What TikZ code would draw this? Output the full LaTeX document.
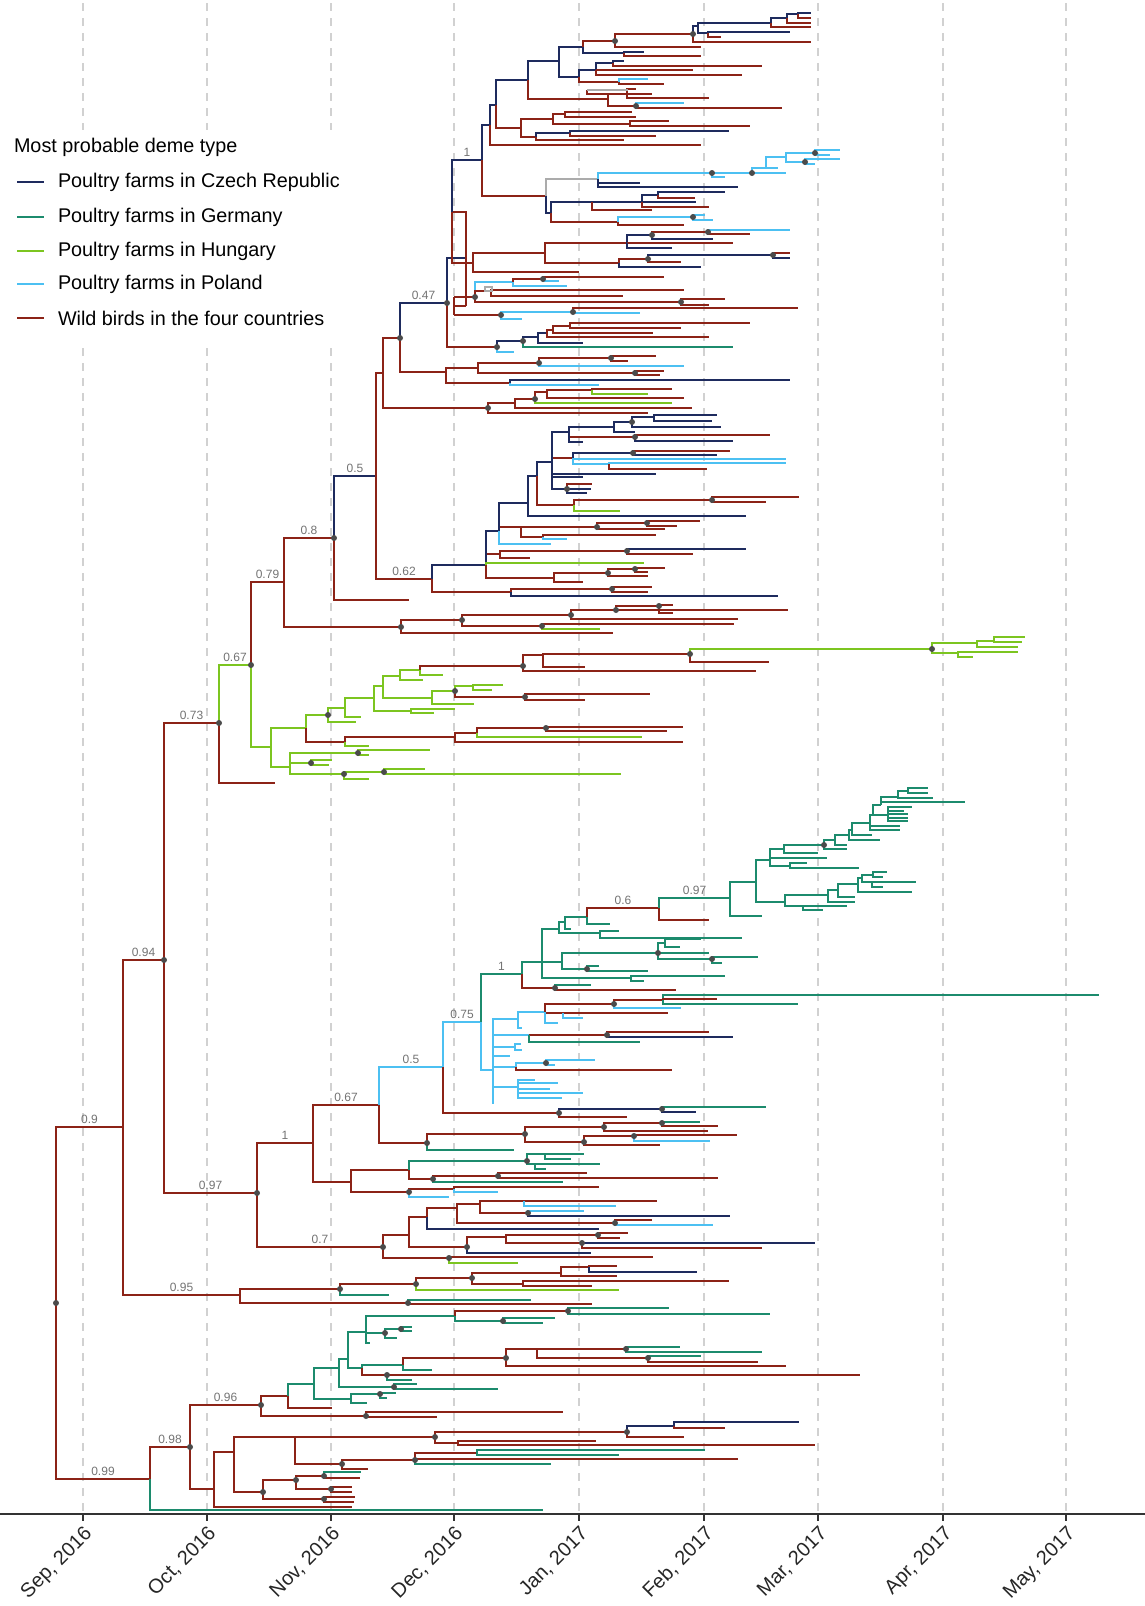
\documentclass[tikz,border=0pt]{standalone}
\usepackage{fontspec}
\setmainfont{Liberation Sans}
\definecolor{czc}{HTML}{1E2B5E}
\definecolor{dec}{HTML}{1C8B6D}
\definecolor{huc}{HTML}{7CC520}
\definecolor{plc}{HTML}{4CC0F2}
\definecolor{wbc}{HTML}{8C2317}
\definecolor{grc}{HTML}{ABABAB}
\definecolor{dotc}{HTML}{4B4B4B}
% one branch of the tree: vertical at the parent, then across to the child
\newcommand{\clade}[4]{\draw[#1] (#2) |- (#3) coordinate (#4);}
\newcommand{\leaf}[3]{\draw[#1] (#2) |- (#3);}

\begin{document}
\begin{tikzpicture}[x=0.5pt,y=-0.5pt,line width=1pt,
  cz/.style={color=czc}, de/.style={color=dec}, hu/.style={color=huc},
  pl/.style={color=plc}, wb/.style={color=wbc}, gr/.style={color=grc},
  gridl/.style={black!18,line width=0.6pt,dash pattern=on 4pt off 3.5pt},
  axc/.style={black!80,line width=1.2pt},
  ppl/.style={anchor=south,inner sep=1.2pt,text=black!55,font=\fontsize{6}{6}\selectfont},
  legi/.style={anchor=west,inner sep=0pt,font=\fontsize{9.9}{12}\selectfont},
  monl/.style={rotate=45,anchor=north east,inner sep=0.5pt,text=black!85,font=\fontsize{10}{12}\selectfont}]
\useasboundingbox (0,0) rectangle (1145,1606);

% month grid
\foreach \mx in {83,207,331,454,579,704,818,943,1066}
  \draw[gridl] (\mx,3) -- (\mx,1514);
\fill[white] (0,130) rectangle (346,346);

% backbone
\coordinate (root) at (56,1303);
\clade{wb}{root}{123,1127}{n09}
\clade{wb}{root}{150,1479}{n099}
\clade{wb}{n09}{164,960}{n094}
\clade{wb}{n09}{240,1295}{n095}
\clade{wb}{n094}{219,723}{n073}
\clade{wb}{n094}{257,1193}{n097}
\clade{hu}{n073}{251,665}{n067}
\leaf{wb}{n073}{275,783}
\clade{wb}{n067}{284,582}{n079}
\clade{hu}{n067}{271,747}{hgA}
\clade{wb}{n079}{334,538}{n08}
\clade{wb}{n079}{401,627}{nB}
\clade{cz}{n08}{376,476}{n05}
\leaf{wb}{n08}{409,600}
\clade{wb}{n05}{383,373}{nX}
\clade{wb}{n05}{432,579}{n062}
\clade{wb}{nX}{400,338}{n047p}
\clade{wb}{nX}{488,408}{nY}

% upper wild-bird / Czech clade
\clade{wb}{n047p}{446,372}{nC}
\clade{cz}{n047p}{447,303}{n047}
\clade{wb}{nC}{478,368}{nC1}
\clade{wb}{nC}{510,383}{nC2}
\clade{wb}{nC1}{539,363}{nC1a}
\clade{wb}{nC1}{635,373}{nC1b}
\clade{wb}{nC1a}{611,358}{nC1c}
\leaf{wb}{nC1c}{656,356} \leaf{wb}{nC1c}{628,361}
\leaf{pl}{nC1a}{684,366}
\leaf{wb}{nC1b}{664,371} \leaf{wb}{nC1b}{660,375}
\leaf{cz}{nC2}{790,380} \leaf{pl}{nC2}{599,385}

\clade{wb}{nY}{515,403}{nY1}
\leaf{wb}{nY}{648,413}
\clade{wb}{nY1}{535,399}{nY2}
\leaf{wb}{nY1}{692,408}
\clade{wb}{nY2}{547,392}{nY3}
\leaf{hu}{nY2}{672,403}
\clade{wb}{nY3}{592,390}{nY4}
\leaf{wb}{nY3}{684,398}
\leaf{wb}{nY4}{672,389} \leaf{hu}{nY4}{648,394}

\draw[cz] (n047) |- (466,258);
\draw[wb] (466,306) -- (466,212) -- (452,212) -- (452,263) -- (473,263) coordinate (nR);
\draw[cz] (452,212) |- (482,160) coordinate (n1);
\draw[wb] (466,306) -- (454,306);
\draw[wb] (454,297) -- (454,315);
\clade{wb}{n047}{497,347}{nZ}
\clade{wb}{454,297}{475,297}{nQ}
\clade{wb}{454,315}{501,315}{nP}

\clade{wb}{nR}{545,253}{nR1}
\leaf{wb}{nR}{579,272}
\clade{wb}{nR1}{627,243}{nR2}
\clade{wb}{nR1}{619,263}{nR3}
\clade{cz}{nR2}{652,235}{nR4}
\leaf{wb}{nR2}{733,243} \leaf{cz}{nR2}{672,248}
\clade{wb}{nR4}{708,232}{nR5}
\leaf{cz}{nR4}{713,239}
\leaf{pl}{nR5}{790,230} \leaf{wb}{nR5}{750,234}
\clade{wb}{nR3}{648,259}{nR6}
\leaf{cz}{nR3}{701,267}
\clade{cz}{nR6}{773,255}{nR7}
\leaf{wb}{nR6}{681,262}
\leaf{wb}{nR7}{790,253} \leaf{cz}{nR7}{790,258}

\clade{pl}{nQ}{481,282}{nQ1}
\clade{wb}{nQ}{491,291}{nQ2}
\clade{wb}{nQ}{681,302}{nQ3}
\clade{pl}{nQ1}{513,282}{nQ4}
\clade{wb}{nQ4}{543,279}{nQ5}
\leaf{pl}{nQ4}{567,286}
\leaf{wb}{nQ5}{664,277} \leaf{pl}{nQ5}{559,281}
\leaf{wb}{nQ2}{684,290} \leaf{wb}{nQ2}{623,296}
\leaf{wb}{nQ3}{725,299} \leaf{wb}{nQ3}{709,305}
\draw[gr,line width=0.8pt] (485,287) rectangle (492,291);

\clade{pl}{nP}{573,312}{nP1}
\leaf{pl}{nP}{522,319}
\leaf{wb}{nP1}{798,308} \leaf{pl}{nP1}{640,313}

\clade{cz}{nZ}{523,341}{nZ1}
\leaf{pl}{nZ}{514,352}
\clade{cz}{nZ1}{538,337}{nZ2}
\leaf{de}{nZ1}{733,347}
\clade{cz}{nZ2}{547,333}{nZ3}
\leaf{cz}{nZ2}{583,343}
\clade{wb}{nZ3}{553,330}{nZ4}
\leaf{wb}{nZ3}{709,337}
\clade{wb}{nZ4}{570,326}{nZ5}
\leaf{wb}{nZ4}{653,333}
\leaf{wb}{nZ5}{750,323} \leaf{wb}{nZ5}{681,328}

% clade under the "1" node
\clade{wb}{n1}{546,196}{nL}
\clade{cz}{n1}{490,125}{nU}
\clade{cz}{nU}{496,105}{nU1}
\leaf{wb}{nU}{701,145}
\clade{wb}{nU1}{521,128}{nU3}
\clade{cz}{nU1}{528,80}{nU2}
\clade{wb}{nU2}{608,99}{nU5}
\clade{cz}{nU2}{559,61}{nU4}
\clade{cz}{nU4}{583,47}{nU6}
\clade{cz}{nU4}{579,77}{nU7}
\clade{wb}{nU6}{615,41}{nU8}
\clade{cz}{nU6}{624,53}{nU9}
\clade{wb}{nU8}{693,34}{nU10}
\leaf{wb}{nU8}{701,47}
\clade{cz}{nU10}{698,26}{nU11}
\leaf{wb}{nU10}{811,42}
\clade{cz}{nU11}{771,23}{nU12}
\clade{cz}{nU11}{708,33}{nU13}
\clade{cz}{nU12}{787,18}{nU14}
\leaf{wb}{nU12}{811,27}
\clade{cz}{nU14}{798,14}{nU15}
\leaf{wb}{nU14}{811,23}
\leaf{cz}{nU15}{811,13} \leaf{wb}{nU15}{811,18}
\leaf{cz}{nU13}{790,32} \leaf{wb}{nU13}{721,37}
\leaf{cz}{nU9}{644,52} \leaf{wb}{nU9}{701,56}
\clade{wb}{nU7}{619,82}{nU17}
\clade{cz}{nU7}{596,70}{nU16}
\clade{cz}{nU16}{613,63}{nU18}
\leaf{wb}{nU16}{693,70} \leaf{wb}{nU16}{742,75}
\leaf{cz}{nU18}{624,61} \leaf{wb}{nU18}{762,66}
\leaf{pl}{nU17}{648,79} \leaf{wb}{nU17}{664,84}
\clade{wb}{nU5}{627,94}{nU19}
\clade{wb}{nU5}{636,106}{nU20}
\leaf{wb}{nU19}{636,89} \leaf{wb}{nU19}{709,98}
\leaf{pl}{nU20}{684,103} \leaf{wb}{nU20}{782,108}
\draw[wb] (587,90) |- (652,94);
\draw[gr] (587,90) -- (628,90);
\clade{wb}{nU3}{553,119}{nU21}
\clade{wb}{nU3}{536,137}{nU24}
\clade{wb}{nU21}{565,114}{nU22}
\clade{wb}{nU21}{630,124}{nU23}
\leaf{wb}{nU22}{632,112} \leaf{wb}{nU22}{636,117}
\leaf{wb}{nU23}{669,121} \leaf{wb}{nU23}{750,126}
\clade{cz}{nU24}{570,133}{nU25}
\leaf{wb}{nU24}{624,140}
\leaf{cz}{nU25}{729,131} \leaf{wb}{nU25}{656,136}

\clade{gr}{nL}{598,179}{nL1}
\clade{cz}{nL}{551,213}{nL2}
\clade{pl}{nL1}{712,173}{nL3}
\leaf{cz}{nL1}{640,183} \leaf{cz}{nL1}{738,187}
\clade{pl}{nL3}{752,173}{nL5}
\leaf{pl}{nL3}{725,177}
\clade{pl}{nL5}{766,168}{nL6}
\leaf{pl}{nL5}{786,173}
\clade{pl}{nL6}{786,157}{nL7}
\leaf{pl}{nL6}{778,168}
\clade{pl}{nL7}{815,153}{nL8}
\clade{pl}{nL7}{805,162}{nL9}
\leaf{pl}{nL8}{840,150} \leaf{pl}{nL8}{830,155}
\leaf{pl}{nL9}{840,159} \leaf{pl}{nL9}{815,164}
\clade{wb}{nL2}{618,222}{nL14}
\clade{cz}{nL2}{592,202}{nL10}
\clade{cz}{nL10}{642,202}{nL11}
\leaf{wb}{nL10}{652,210}
\clade{cz}{nL11}{658,195}{nL12}
\leaf{cz}{nL11}{696,202} \leaf{wb}{nL11}{709,207}
\leaf{cz}{nL12}{725,192} \leaf{wb}{nL12}{695,198}
\clade{pl}{nL14}{693,217}{nL15}
\leaf{wb}{nL14}{684,225}
\leaf{pl}{nL15}{705,215} \leaf{pl}{nL15}{713,220}

% clade under 0.62
\clade{cz}{n062}{486,565}{nV}
\clade{wb}{n062}{511,592}{nV0}
\clade{wb}{nV0}{612,589}{nV0a}
\leaf{cz}{nV0}{778,596}
\leaf{wb}{nV0a}{652,587} \leaf{wb}{nV0a}{648,592}
\clade{wb}{nV}{500,554}{nV3}
\clade{wb}{nV}{554,578}{nV2}
\clade{cz}{nV}{499,531}{nV1}
\leaf{hu}{nV}{644,563}
\clade{wb}{nV2}{608,573}{nV2a}
\leaf{wb}{nV2}{583,582}
\clade{wb}{nV2a}{635,569}{nV2b}
\leaf{wb}{nV2a}{648,576}
\leaf{wb}{nV2b}{665,568} \leaf{wb}{nV2b}{648,572}
\clade{wb}{nV3}{627,551}{nV3a}
\leaf{wb}{nV3}{530,558}
\leaf{cz}{nV3a}{746,549} \leaf{wb}{nV3a}{693,554}
\clade{wb}{nV1}{521,527}{nV5}
\clade{cz}{nV1}{528,503}{nV4}
\leaf{pl}{nV1}{551,544}
\clade{wb}{nV5}{597,527}{nV5a}
\clade{wb}{nV5}{543,537}{nV5c}
\clade{wb}{nV5a}{647,523}{nV5b}
\leaf{wb}{nV5a}{665,529}
\leaf{wb}{nV5b}{700,521} \leaf{wb}{nV5b}{677,526}
\leaf{wb}{nV5c}{656,535} \leaf{pl}{nV5c}{567,539}
\clade{cz}{nV4}{537,476}{nV6}
\leaf{cz}{nV4}{746,516}
\clade{wb}{nV6}{574,505}{nV9}
\clade{cz}{nV6}{552,462}{nV7}
\clade{wb}{nV9}{712,500}{nV9a}
\leaf{hu}{nV9}{620,511}
\leaf{wb}{nV9a}{799,497} \leaf{wb}{nV9a}{766,502}
\clade{wb}{nV7}{573,458}{nV11}
\clade{cz}{nV7}{569,432}{nV10}
\leaf{cz}{nV7}{656,474} \leaf{cz}{nV7}{583,477}
\clade{cz}{nV7}{567,489}{nV12}
\leaf{wb}{nV12}{592,484} \leaf{cz}{nV12}{591,489} \leaf{cz}{nV12}{587,493}
\clade{cz}{nV10}{614,427}{nV13}
\clade{wb}{nV10}{635,437}{nV16}
\leaf{cz}{nV10}{583,442}
\clade{cz}{nV13}{632,422}{nV14}
\leaf{cz}{nV13}{635,432}
\clade{cz}{nV14}{654,417}{nV15}
\leaf{cz}{nV14}{721,427}
\leaf{cz}{nV15}{717,415} \leaf{cz}{nV15}{712,421}
\leaf{wb}{nV16}{770,435} \leaf{cz}{nV16}{733,441}
\clade{cz}{nV11}{633,453}{nV17}
\leaf{pl}{nV11}{786,459}
\clade{pl}{nV11}{609,464}{nV18}
\leaf{wb}{nV17}{730,451} \leaf{cz}{nV17}{717,455}
\leaf{pl}{nV18}{786,463} \leaf{wb}{nV18}{707,469}

\clade{wb}{nB}{462,620}{nB1}
\leaf{wb}{nB}{613,633}
\clade{wb}{nB1}{571,615}{nB2}
\clade{wb}{nB1}{542,626}{nB3}
\clade{wb}{nB2}{616,610}{nB4}
\leaf{wb}{nB2}{738,619}
\clade{wb}{nB4}{659,606}{nB5}
\leaf{wb}{nB4}{788,610}
\leaf{wb}{nB5}{673,605} \leaf{wb}{nB5}{673,613}
\leaf{wb}{nB3}{734,624} \leaf{hu}{nB3}{600,629}

% Hungarian clade
\clade{hu}{hgA}{306,728}{hgB}
\clade{hu}{hgA}{290,767}{hgD}
\clade{hu}{hgB}{328,715}{hgC}
\clade{wb}{hgB}{345,742}{hgE}
\clade{hu}{hgC}{345,708}{hgF}
\leaf{hu}{hgC}{356,722}
\clade{hu}{hgF}{374,698}{hgG}
\leaf{hu}{hgF}{361,717}
\clade{hu}{hgG}{383,686}{hgI}
\clade{hu}{hgG}{411,711}{hgJ}
\clade{hu}{hgI}{400,676}{hgK}
\clade{hu}{hgI}{432,698}{hgL}
\clade{hu}{hgK}{420,670}{hgM}
\leaf{hu}{hgK}{423,680}
\clade{wb}{hgM}{523,666}{hgN}
\leaf{hu}{hgM}{443,675}
\clade{wb}{hgN}{543,655}{hgO}
\leaf{wb}{hgN}{756,671}
\clade{wb}{hgO}{690,654}{hgP}
\leaf{wb}{hgO}{585,667}
\clade{hu}{hgP}{932,649}{hgQ}
\leaf{wb}{hgP}{769,662}
\clade{hu}{hgQ}{977,643}{hgR}
\clade{hu}{hgQ}{958,653}{hgS}
\clade{hu}{hgR}{994,641}{hgT}
\leaf{hu}{hgR}{1018,647}
\leaf{hu}{hgT}{1025,637} \leaf{hu}{hgT}{1022,642}
\leaf{hu}{hgS}{1018,652} \leaf{hu}{hgS}{973,657}
\clade{hu}{hgL}{455,691}{hgU}
\leaf{hu}{hgL}{474,704}
\clade{hu}{hgU}{473,686}{hgV}
\clade{wb}{hgU}{525,697}{hgW}
\leaf{hu}{hgV}{503,685} \leaf{hu}{hgV}{492,690}
\leaf{wb}{hgW}{650,694} \leaf{wb}{hgW}{585,700}
\leaf{hu}{hgJ}{455,709} \leaf{hu}{hgJ}{434,713}
\clade{wb}{hgE}{455,737}{hgX}
\leaf{hu}{hgE}{369,746}
\clade{wb}{hgX}{477,733}{hgY}
\leaf{wb}{hgX}{683,742}
\clade{wb}{hgY}{546,728}{hgZ}
\leaf{hu}{hgY}{642,737}
\leaf{wb}{hgZ}{683,727} \leaf{wb}{hgZ}{667,731}
\clade{hu}{hgD}{358,753}{hgD1}
\clade{hu}{hgD}{311,763}{hgD2}
\clade{hu}{hgD}{344,774}{hgD3}
\leaf{hu}{hgD1}{430,750} \leaf{hu}{hgD1}{369,755}
\leaf{hu}{hgD2}{332,760} \leaf{hu}{hgD2}{329,765}
\clade{hu}{hgD3}{384,772}{hgD4}
\leaf{hu}{hgD3}{369,779}
\leaf{hu}{hgD4}{425,769} \leaf{hu}{hgD4}{621,774}

% lower half: clade 0.97
\clade{wb}{n097}{313,1143}{n1b}
\clade{wb}{n097}{383,1247}{n07}
\clade{wb}{n1b}{379,1105}{n067b}
\clade{wb}{n1b}{351,1182}{nD}
\clade{pl}{n067b}{443,1067}{n05b}
\clade{wb}{n067b}{427,1143}{nE}
\clade{pl}{n05b}{481,1022}{n075}
\clade{wb}{n05b}{559,1113}{nF}
\clade{de}{n075}{522,974}{n1c}
\clade{pl}{n075}{493,1070}{nPL}

% Polish poultry
\clade{pl}{nPL}{518,1019}{nPL1}
\clade{pl}{nPL}{529,1035}{nPL6}
\clade{pl}{nPL}{515,1047}{nPL8}
\leaf{pl}{nPL}{510,1056}
\clade{pl}{nPL}{516,1067}{nPL9}
\clade{pl}{nPL}{518,1087}{nPL12}
\leaf{pl}{nPL}{494,1103}
\clade{pl}{nPL1}{545,1012}{nPL2}
\leaf{pl}{nPL1}{522,1028}
\clade{wb}{nPL2}{614,1004}{nPL3}
\clade{wb}{nPL2}{563,1013}{nPL5}
\leaf{pl}{nPL2}{558,1023}
\clade{wb}{nPL3}{663,1000}{nPL4}
\leaf{pl}{nPL3}{681,1008}
\leaf{de}{nPL4}{1099,995} \leaf{wb}{nPL4}{717,999} \leaf{de}{nPL4}{798,1004}
\leaf{wb}{nPL5}{668,1013} \leaf{pl}{nPL5}{583,1018}
\clade{wb}{nPL6}{607,1035}{nPL7}
\leaf{de}{nPL6}{640,1042}
\leaf{wb}{nPL7}{709,1032} \leaf{cz}{nPL7}{733,1037}
\leaf{pl}{nPL8}{522,1050} \leaf{pl}{nPL8}{521,1044}
\clade{pl}{nPL9}{546,1063}{nPL10}
\leaf{wb}{nPL9}{672,1070}
\leaf{pl}{nPL10}{595,1060} \leaf{pl}{nPL10}{555,1065}
\leaf{pl}{nPL12}{535,1080} \leaf{pl}{nPL12}{558,1083} \leaf{pl}{nPL12}{550,1089}
\leaf{pl}{nPL12}{583,1093} \leaf{pl}{nPL12}{562,1098}

% German poultry
\clade{de}{n1c}{542,962}{nH}
\clade{wb}{n1c}{555,988}{nG}
\leaf{de}{nG}{591,985} \leaf{wb}{nG}{676,990}
\clade{de}{nH}{559,929}{nH1}
\clade{de}{nH}{562,962}{nH2}
\clade{de}{nH}{631,978}{nH3}
\clade{de}{nH1}{565,922}{nH4}
\clade{de}{nH1}{600,933}{nH5}
\clade{de}{nH4}{587,917}{nH6}
\leaf{de}{nH4}{571,929}
\clade{wb}{nH6}{659,908}{n06}
\leaf{de}{nH6}{610,924}
\leaf{de}{nH5}{619,931} \leaf{de}{nH5}{742,938}
\clade{de}{nH2}{658,953}{nH7}
\clade{de}{nH2}{587,969}{nH8}
\clade{de}{nH7}{665,943}{nH9}
\leaf{de}{nH7}{709,953}
\clade{de}{nH7}{712,959}{nH10}
\leaf{de}{nH9}{701,939} \leaf{de}{nH9}{680,947}
\leaf{de}{nH10}{758,957} \leaf{de}{nH10}{722,963}
\leaf{de}{nH8}{599,966} \leaf{de}{nH8}{648,971}
\leaf{de}{nH3}{725,976} \leaf{de}{nH3}{644,981}
\clade{de}{n06}{730,898}{n097g}
\leaf{wb}{n06}{709,920}
\clade{de}{n097g}{756,882}{nK}
\leaf{de}{n097g}{762,916}
\clade{de}{nK}{770,860}{nK1}
\clade{de}{nK}{785,902}{nK2}
\clade{de}{nK1}{784,849}{nK3}
\leaf{de}{nK1}{827,858}
\clade{de}{nK1}{790,866}{nK5}
\leaf{de}{nK5}{807,863} \leaf{de}{nK5}{859,868}
\clade{de}{nK3}{824,845}{c1}
\leaf{de}{nK3}{818,853}
\clade{de}{c1}{835,840}{c2}
\leaf{de}{c1}{847,849}
\clade{de}{c2}{849,835}{c3}
\leaf{de}{c2}{847,845}
\clade{de}{c3}{852,830}{c4}
\leaf{de}{c3}{880,840}
\clade{de}{c4}{870,823}{c5}
\leaf{de}{c4}{872,835}
\clade{de}{c5}{873,815}{c6}
\leaf{de}{c5}{900,830} \leaf{de}{c5}{900,826}
\clade{de}{c6}{881,805}{c7}
\clade{de}{c6}{888,815}{c8}
\leaf{de}{c8}{912,807} \leaf{de}{c8}{904,811} \leaf{de}{c8}{908,814}
\leaf{de}{c8}{908,818} \leaf{de}{c8}{908,821}
\clade{de}{c7}{898,797}{c9}
\leaf{de}{c7}{965,802}
\clade{de}{c9}{908,791}{c10}
\leaf{de}{c9}{933,798}
\leaf{de}{c10}{928,788} \leaf{de}{c10}{928,793}
\clade{de}{nK2}{828,895}{d1}
\clade{de}{nK2}{803,906}{d2}
\clade{de}{d1}{838,890}{d3}
\leaf{de}{d1}{855,902}
\clade{de}{d3}{858,884}{d4}
\leaf{de}{d3}{855,897}
\clade{de}{d4}{862,878}{d5}
\leaf{de}{d4}{912,892}
\clade{de}{d5}{873,875}{d6}
\clade{de}{d5}{872,882}{d7}
\leaf{de}{d6}{887,872} \leaf{de}{d6}{883,877}
\leaf{de}{d7}{916,882} \leaf{de}{d7}{883,887}
\leaf{de}{d2}{847,906} \leaf{de}{d2}{823,910}

\clade{cz}{nF}{662,1109}{nF1}
\leaf{wb}{nF}{627,1117}
\leaf{de}{nF1}{766,1107} \leaf{cz}{nF1}{696,1112}

\clade{wb}{nE}{525,1134}{nE1}
\leaf{de}{nE}{514,1150}
\clade{wb}{nE1}{604,1127}{nE2}
\clade{wb}{nE1}{584,1142}{nE3}
\clade{wb}{nE2}{662,1123}{nE4}
\leaf{wb}{nE2}{708,1131}
\leaf{de}{nE4}{700,1122} \leaf{wb}{nE4}{718,1126}
\clade{wb}{nE3}{634,1136}{nE5}
\leaf{wb}{nE3}{660,1145}
\leaf{wb}{nE5}{737,1135} \leaf{pl}{nE5}{710,1141}

\clade{wb}{nD}{409,1170}{nD1}
\clade{wb}{nD}{409,1192}{nD2}
\clade{de}{nD1}{527,1161}{nD3}
\clade{wb}{nD1}{433,1179}{nD4}
\clade{de}{nD3}{545,1154}{nD5}
\clade{de}{nD3}{535,1164}{nD6}
\leaf{de}{nD5}{584,1154} \leaf{de}{nD5}{571,1159}
\leaf{de}{nD6}{600,1164} \leaf{de}{nD6}{546,1169}
\clade{wb}{nD4}{498,1176}{nD7}
\leaf{de}{nD4}{563,1182}
\leaf{wb}{nD7}{587,1173} \leaf{wb}{nD7}{718,1178}
\clade{wb}{nD2}{454,1189}{nD8}
\leaf{pl}{nD2}{449,1197}
\leaf{wb}{nD8}{599,1187} \leaf{pl}{nD8}{498,1192}

% clade 0.7
\clade{wb}{n07}{409,1235}{nM}
\clade{wb}{n07}{449,1258}{nN}
\clade{wb}{nM}{427,1217}{nM1}
\clade{wb}{nM}{467,1247}{nM2}
\clade{wb}{nM1}{457,1208}{nM3}
\leaf{cz}{nM1}{599,1229}
\clade{wb}{nM3}{480,1204}{nM4}
\clade{wb}{nM3}{615,1223}{nM5}
\clade{wb}{nM4}{524,1201}{nM6}
\clade{wb}{nM4}{528,1213}{nM7}
\leaf{wb}{nM6}{657,1201} \leaf{pl}{nM6}{616,1206}
\leaf{pl}{nM7}{584,1211} \leaf{cz}{nM7}{730,1216}
\leaf{wb}{nM5}{652,1220} \leaf{pl}{nM5}{713,1225}
\clade{wb}{nM2}{506,1237}{nM8}
\leaf{cz}{nM2}{591,1253}
\clade{wb}{nM8}{598,1235}{nM9}
\clade{wb}{nM8}{582,1243}{nM10}
\leaf{wb}{nM9}{628,1233} \leaf{wb}{nM9}{620,1238}
\leaf{cz}{nM10}{815,1243} \leaf{wb}{nM10}{762,1248}
\leaf{wb}{nN}{653,1257} \leaf{hu}{nN}{518,1263}

% clade 0.95
\clade{wb}{n095}{340,1289}{nO1}
\clade{wb}{n095}{408,1303}{nO2}
\clade{wb}{nO1}{416,1284}{nO3}
\leaf{de}{nO1}{389,1295}
\clade{wb}{nO3}{472,1278}{nO4}
\leaf{hu}{nO3}{619,1290}
\clade{wb}{nO4}{561,1273}{nO5}
\clade{wb}{nO4}{523,1284}{nO6}
\clade{wb}{nO5}{589,1267}{nO7}
\leaf{wb}{nO5}{617,1276}
\leaf{wb}{nO7}{617,1266} \leaf{cz}{nO7}{697,1272}
\leaf{wb}{nO6}{729,1281} \leaf{wb}{nO6}{592,1286}
\leaf{de}{nO2}{531,1300} \leaf{wb}{nO2}{592,1304}

% clade 0.99
\clade{wb}{n099}{190,1447}{n098}
\leaf{de}{n099}{543,1510}
\clade{wb}{n098}{261,1405}{n096}
\clade{wb}{n098}{214,1489}{nS}
\clade{wb}{n096}{288,1396}{nT0}
\clade{wb}{n096}{366,1416}{nT1}
\leaf{wb}{nT1}{563,1412} \leaf{wb}{nT1}{437,1417}
\clade{de}{nT0}{314,1384}{nG0}
\leaf{wb}{nT0}{332,1408}
\clade{de}{nG0}{339,1368}{nG2}
\clade{de}{nG0}{351,1399}{nG3}
\clade{de}{nG3}{380,1394}{nG4}
\leaf{de}{nG3}{367,1403}
\leaf{de}{nG4}{396,1393} \leaf{de}{nG4}{387,1398}
\clade{de}{nG2}{348,1359}{nG5}
\clade{de}{nG2}{394,1387}{nG6}
\leaf{de}{nG6}{417,1384} \leaf{de}{nG6}{498,1389}
\clade{de}{nG5}{366,1332}{nG1}
\clade{de}{nG5}{362,1368}{nG7}
\clade{de}{nG1}{455,1316}{nG8}
\clade{de}{nG1}{385,1333}{nG9}
\leaf{de}{nG1}{370,1343}
\clade{de}{nG9}{401,1329}{nG10}
\leaf{de}{nG9}{397,1338}
\leaf{de}{nG10}{412,1327} \leaf{de}{nG10}{412,1331}
\clade{wb}{nG8}{568,1311}{nG11}
\clade{de}{nG8}{503,1321}{nG12}
\leaf{de}{nG11}{669,1308} \leaf{de}{nG11}{770,1314}
\leaf{de}{nG12}{555,1318} \leaf{de}{nG12}{543,1323}
\clade{de}{nG7}{403,1365}{nG13}
\clade{wb}{nG7}{387,1375}{nG14}
\clade{wb}{nG13}{506,1358}{nG15}
\leaf{de}{nG13}{432,1370}
\clade{wb}{nG15}{537,1349}{nG16}
\leaf{wb}{nG15}{786,1366}
\clade{wb}{nG16}{626,1349}{nG17}
\clade{wb}{nG16}{648,1358}{nG18}
\leaf{de}{nG17}{680,1347} \leaf{de}{nG17}{762,1352}
\leaf{de}{nG18}{701,1356} \leaf{wb}{nG18}{758,1362}
\leaf{wb}{nG14}{860,1375} \leaf{de}{nG14}{412,1380}

\clade{wb}{nS}{234,1452}{nS1}
\leaf{wb}{nS}{352,1507}
\clade{wb}{nS1}{295,1437}{nS2}
\clade{wb}{nS1}{263,1492}{nS3}
\clade{wb}{nS2}{435,1437}{nS4}
\clade{wb}{nS2}{342,1464}{nS5}
\clade{wb}{nS4}{627,1432}{nS6}
\clade{wb}{nS4}{458,1443}{nS7}
\clade{cz}{nS6}{674,1426}{nS8}
\leaf{wb}{nS6}{684,1437}
\leaf{cz}{nS8}{799,1422} \leaf{wb}{nS8}{725,1428}
\leaf{wb}{nS7}{596,1441} \leaf{wb}{nS7}{815,1445}
\clade{wb}{nS5}{415,1460}{nS9}
\leaf{wb}{nS5}{368,1469}
\clade{wb}{nS9}{477,1453}{nS10}
\leaf{wb}{nS9}{738,1459} \leaf{de}{nS9}{551,1464}
\leaf{de}{nS10}{705,1450} \leaf{de}{nS10}{619,1455}
\clade{wb}{nS3}{296,1480}{nS11}
\clade{wb}{nS3}{324,1499}{nS12}
\clade{wb}{nS11}{324,1476}{nS13}
\clade{wb}{nS11}{331,1489}{nS14}
\leaf{de}{nS13}{361,1472} \leaf{wb}{nS13}{360,1478}
\leaf{wb}{nS14}{352,1487} \leaf{wb}{nS14}{352,1492}
\leaf{wb}{nS12}{355,1497} \leaf{wb}{nS12}{354,1502}

% node markers
\foreach \d in {root,n094,n073,n067,n08,nB,n047p,nY,n047,nY2,nC1a,nC1b,nC1c,nQ5,nQ3,nP,nP1,nZ,
  nU8,nU10,nU20,nL3,nL5,nL8,nL9,nR4,nR5,nR6,nR7,nL15,nV0a,nV2a,nV2b,nV3a,nV5a,nV5b,nV9a,nV12,
  nV14,nV16,nV17,nB1,nB2,nB3,nB4,nB5,hgC,hgD1,hgD2,hgD3,hgD4,hgU,hgW,hgN,hgP,hgQ,hgZ,n097,nE,nE1,
  nE2,nE3,nE4,nE5,nF,nF1,nD2,nD3,nD4,nD7,nPL3,nPL7,nPL10,n07,nN,nM2,nM5,nM7,nM9,nM10,nH7,nH8,
  nH10,c1,nG,nO1,nO2,nO3,nO4,n098,n096,nT1,nG4,nG6,nG9,nG10,nG11,nG12,nG14,nG15,nG17,nG18,
  nS3,nS4,nS5,nS6,nS9,nS11,nS12,nS13,nS14,nQ,nZ1}
  \fill[dotc] (\d) circle (1.5pt);

% posterior probabilities
\foreach \nm/\lx/\ly/\lt in {p1/89.5/1127/0.9,p2/103/1479/0.99,p3/143.5/960/0.94,
  p4/181.5/1295/0.95,p5/191.5/723/0.73,p6/210.5/1193/0.97,p7/235/665/0.67,
  p8/267.5/582/0.79,p9/309/538/0.8,p10/355/476/0.5,p11/404/579/0.62,
  p12/423.5/303/0.47,p13/467/160/1,p14/285/1143/1,p15/320/1247/0.7,
  p16/346/1105/0.67,p17/411/1067/0.5,p18/462/1022/0.75,p19/501.5/974/1,
  p20/623/908/0.6,p21/694.5/898/0.97,p22/170/1447/0.98,p23/225.5/1405/0.96}
  \node[ppl] (\nm) at (\lx,\ly) {\lt};

% time axis
\draw[axc] (0,1514) -- (1145,1514);
\foreach \mx/\mt [count=\i] in {83/{Sep, 2016},207/{Oct, 2016},331/{Nov, 2016},
  454/{Dec, 2016},579/{Jan, 2017},704/{Feb, 2017},818/{Mar, 2017},943/{Apr, 2017},1066/{May, 2017}} {
  \draw[axc,line width=0.8pt] (\mx,1514) -- (\mx,1521);
  \node[monl] (mon\i) at (\mx,1522) {\mt};
}

% legend
\node[legi] (legtitle) at (13,147) {Most probable deme type};
\foreach \st/\yy/\tx in {cz/182/{Poultry farms in Czech Republic},de/217/{Poultry farms in Germany},
  hu/251/{Poultry farms in Hungary},pl/284/{Poultry farms in Poland},wb/318/{Wild birds in the four countries}} {
  \draw[\st] (17,\yy) -- (44,\yy);
  \node[legi] (leg-\st) at (57,\yy) {\tx};
}
\end{tikzpicture}
\end{document}
